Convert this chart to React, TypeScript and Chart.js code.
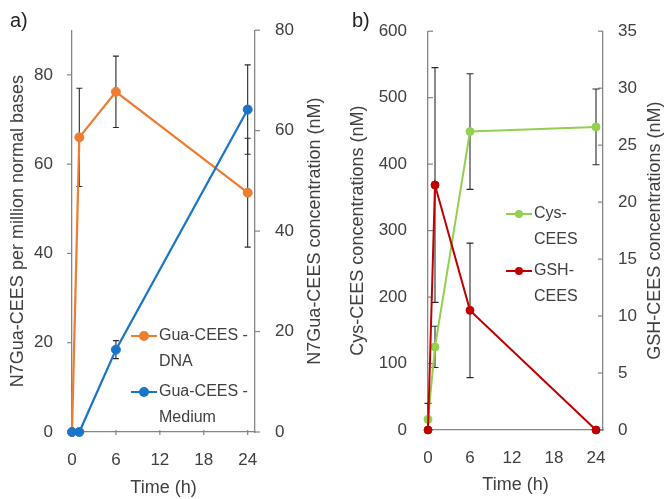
import React, { useEffect, useRef } from "react";
import { Chart, registerables } from "chart.js";

Chart.register(...registerables);

// ---------- data ----------
const timeA = [0, 1, 6, 24];
const dnaValues = [0, 66, 76.2, 53.6];
const dnaErrors = [0, 11, 8, 12.2];
const mediumValues = [0, 0, 16.4, 64.2];
const mediumErrors = [0, 0, 1.8, 8.9];

const timeB = [0, 1, 6, 24];
const cysValues = [16, 125, 449, 456];
const cysErrors = [24, 31, 87, 57];
const gshValues = [0, 21.5, 10.5, 0];
const gshErrors = [0, 10.3, 5.9, 0];

const xTicks = [0, 6, 12, 18, 24];
const leftTicksA = [0, 20, 40, 60, 80];
const rightTicksA = [0, 20, 40, 60, 80];
const leftTicksB = [0, 100, 200, 300, 400, 500, 600];
const rightTicksB = [0, 5, 10, 15, 20, 25, 30, 35];

const dnaLegend = ["Gua-CEES -", "DNA"];
const mediumLegend = ["Gua-CEES -", "Medium"];
const cysLegend = ["Cys-", "CEES"];
const gshLegend = ["GSH-", "CEES"];

const xTitle = "Time (h)";
const leftTitleA = "N7Gua-CEES per million normal bases";
const rightTitleA = "N7Gua-CEES concentration (nM)";
const leftTitleB = "Cys-CEES concentrations (nM)";
const rightTitleB = "GSH-CEES concentrations (nM)";

// ---------- style ----------
const FONT = "'Liberation Sans', Arial, sans-serif";
const TEXT = "#404040";
const AXIS = "#868686";
const ORANGE = "#ED7D31";
const BLUE = "#1A75C8";
const GREEN = "#92D050";
const RED = "#C00000";

Chart.defaults.font.family = FONT;
Chart.defaults.color = TEXT;

const pts = (xs: number[], ys: number[]) => xs.map((x, i) => ({ x, y: ys[i] }));
const setTicks = (vals: number[]) => (s: any) => {
  s.ticks = vals.map((v) => ({ value: v }));
};

function errorBarPlugin(cap: number) {
  return {
    id: "errorBars",
    beforeDatasetsDraw(chart: any) {
      const { ctx, chartArea } = chart;
      chart.data.datasets.forEach((ds: any, i: number) => {
        if (!ds.errors) return;
        const meta = chart.getDatasetMeta(i);
        const xs = chart.scales[meta.xAxisID];
        const ys = chart.scales[meta.yAxisID];
        ctx.save();
        ctx.strokeStyle = "#2a2a2a";
        ctx.lineWidth = 1.1;
        ds.data.forEach((p: any, j: number) => {
          const e = ds.errors[j];
          if (!e) return;
          const px = xs.getPixelForValue(p.x);
          const top = ys.getPixelForValue(p.y + e);
          const bot = ys.getPixelForValue(p.y - e);
          const t = Math.max(top, chartArea.top);
          const b = Math.min(bot, chartArea.bottom);
          ctx.beginPath();
          ctx.moveTo(px, t);
          ctx.lineTo(px, b);
          if (top >= chartArea.top - 0.5) {
            ctx.moveTo(px - cap, top);
            ctx.lineTo(px + cap, top);
          }
          if (bot <= chartArea.bottom + 0.5) {
            ctx.moveTo(px - cap, bot);
            ctx.lineTo(px + cap, bot);
          }
          ctx.stroke();
        });
        ctx.restore();
      });
    },
  };
}

function tickMarkPlugin(axes: Record<string, { inner: number; outer: number }>) {
  return {
    id: "tickMarks",
    beforeDatasetsDraw(chart: any) {
      const { ctx } = chart;
      ctx.save();
      ctx.strokeStyle = AXIS;
      ctx.lineWidth = 1.2;
      Object.keys(axes).forEach((id) => {
        const { inner, outer } = axes[id];
        const s = chart.scales[id];
        s.ticks.forEach((t: any) => {
          const p = s.getPixelForValue(t.value);
          ctx.beginPath();
          if (s.isHorizontal()) {
            ctx.moveTo(p, s.top - inner);
            ctx.lineTo(p, s.top + outer);
          } else if (s.position === "left") {
            ctx.moveTo(s.right + inner, p);
            ctx.lineTo(s.right - outer, p);
          } else {
            ctx.moveTo(s.left - inner, p);
            ctx.lineTo(s.left + outer, p);
          }
          ctx.stroke();
        });
      });
      ctx.restore();
    },
  };
}

function decorPlugin(o: {
  panel: string;
  panelX: number;
  panelY: number;
  rightTitle: string;
  rightTitleFromEdge: number;
  legendX: number;
  legendY: number;
  lineLen: number;
  radius: number;
  entryGap: number;
  rowGap: number;
  order: number[];
}) {
  return {
    id: "decor",
    afterDraw(chart: any) {
      const { ctx, chartArea } = chart;
      ctx.save();
      // panel label
      ctx.fillStyle = "#222";
      ctx.font = `20px ${FONT}`;
      ctx.textAlign = "left";
      ctx.textBaseline = "alphabetic";
      ctx.fillText(o.panel, o.panelX, o.panelY);
      // right axis title (reads bottom to top)
      ctx.fillStyle = TEXT;
      ctx.font = `18px ${FONT}`;
      ctx.textAlign = "center";
      ctx.textBaseline = "middle";
      ctx.translate(chart.width - o.rightTitleFromEdge, (chartArea.top + chartArea.bottom) / 2);
      ctx.rotate(-Math.PI / 2);
      ctx.fillText(o.rightTitle, 0, 0);
      ctx.restore();
      // legend
      ctx.save();
      ctx.font = `16px ${FONT}`;
      ctx.textBaseline = "middle";
      ctx.textAlign = "left";
      o.order.forEach((di, k) => {
        const ds = chart.data.datasets[di];
        const y = o.legendY + k * o.entryGap;
        const x = o.legendX;
        ctx.strokeStyle = ds.borderColor;
        ctx.lineWidth = 2;
        ctx.beginPath();
        ctx.moveTo(x, y);
        ctx.lineTo(x + o.lineLen, y);
        ctx.stroke();
        ctx.fillStyle = ds.borderColor;
        ctx.beginPath();
        ctx.arc(x + o.lineLen / 2, y, o.radius, 0, Math.PI * 2);
        ctx.fill();
        ctx.fillStyle = TEXT;
        (ds.legendLines as string[]).forEach((line, li) => {
          ctx.fillText(line, x + o.lineLen + 2, y + li * o.rowGap);
        });
      });
      ctx.restore();
    },
  };
}

function yScale(opts: any) {
  return {
    type: "linear",
    position: opts.position,
    min: opts.min,
    max: opts.max,
    afterBuildTicks: setTicks(opts.ticks),
    afterFit: (s: any) => {
      s.width = opts.width;
    },
    grid: { display: false, drawTicks: false },
    border: { display: true, color: AXIS, width: 1.3 },
    ticks: { padding: opts.padding, color: TEXT, font: { size: 17 } },
    title: opts.title
      ? {
          display: true,
          text: opts.title,
          color: TEXT,
          font: { size: 18 },
          padding: { top: opts.titlePad, bottom: 0 },
        }
      : { display: false },
  };
}

function xScale(height: number, titleBottom: number) {
  return {
    type: "linear",
    min: 0,
    max: 25,
    afterBuildTicks: setTicks(xTicks),
    afterFit: (s: any) => {
      s.height = height;
    },
    grid: { display: false, drawTicks: false },
    border: { display: true, color: AXIS, width: 1.3 },
    ticks: { padding: 18, color: TEXT, font: { size: 17 } },
    title: {
      display: true,
      text: xTitle,
      color: TEXT,
      font: { size: 18 },
      padding: { top: 0, bottom: titleBottom },
    },
  };
}

function lineDs(label: string[], data: any[], errors: number[], color: string, yAxisID: string, order: number, r: number, bw: number) {
  return {
    label: label.join(" "),
    legendLines: label,
    errors,
    data,
    yAxisID,
    xAxisID: "x",
    order,
    borderColor: color,
    backgroundColor: color,
    pointBackgroundColor: color,
    pointBorderColor: color,
    pointBorderWidth: 1,
    pointRadius: r,
    borderWidth: bw,
    tension: 0,
    clip: false,
  };
}

function configA(): any {
  return {
    type: "line",
    data: {
      datasets: [
        lineDs(dnaLegend, pts(timeA, dnaValues), dnaErrors, ORANGE, "y", 1, 4.5, 2.25),
        lineDs(mediumLegend, pts(timeA, mediumValues), mediumErrors, BLUE, "y1", 0, 4.5, 2.25),
      ],
    },
    options: {
      animation: false,
      responsive: false,
      events: [],
      layout: { padding: { top: 27, left: 0, right: 0, bottom: 0 } },
      plugins: { legend: { display: false }, tooltip: { enabled: false } },
      scales: {
        x: xScale(67, 0),
        y: yScale({ position: "left", min: 0, max: 90, ticks: leftTicksA, width: 72, padding: 19, title: leftTitleA, titlePad: 7 }),
        y1: yScale({ position: "right", min: 0, max: 80, ticks: rightTicksA, width: 77, padding: 20 }),
      },
    },
    plugins: [
      tickMarkPlugin({ x: { inner: 2, outer: 3 }, y: { inner: 0, outer: 5 }, y1: { inner: 0, outer: 5 } }),
      errorBarPlugin(3),
      decorPlugin({
        panel: "a)",
        panelX: 10,
        panelY: 27,
        rightTitle: rightTitleA,
        rightTitleFromEdge: 17,
        legendX: 131,
        legendY: 336,
        lineLen: 26,
        radius: 5,
        entryGap: 56,
        rowGap: 26,
        order: [0, 1],
      }),
    ],
  };
}

function configB(): any {
  return {
    type: "line",
    data: {
      datasets: [
        lineDs(cysLegend, pts(timeB, cysValues), cysErrors, GREEN, "y", 1, 4, 2),
        lineDs(gshLegend, pts(timeB, gshValues), gshErrors, RED, "y1", 0, 4, 2),
      ],
    },
    options: {
      animation: false,
      responsive: false,
      events: [],
      layout: { padding: { top: 30, left: 0, right: 0, bottom: 0 } },
      plugins: { legend: { display: false }, tooltip: { enabled: false } },
      scales: {
        x: xScale(69, 3),
        y: yScale({ position: "left", min: 0, max: 600, ticks: leftTicksB, width: 96, padding: 21, title: leftTitleB, titlePad: 15 }),
        y1: yScale({ position: "right", min: 0, max: 35, ticks: rightTicksB, width: 62, padding: 15 }),
      },
    },
    plugins: [
      tickMarkPlugin({ y: { inner: 5, outer: 0 }, y1: { inner: 5, outer: 0 } }),
      errorBarPlugin(3.5),
      decorPlugin({
        panel: "b)",
        panelX: 20,
        panelY: 27,
        rightTitle: rightTitleB,
        rightTitleFromEdge: 10,
        legendX: 174,
        legendY: 214,
        lineLen: 26,
        radius: 4,
        entryGap: 57,
        rowGap: 26,
        order: [0, 1],
      }),
    ],
  };
}

function Panel({ left, width, make }: { left: number; width: number; make: () => any }) {
  const ref = useRef<HTMLCanvasElement>(null);
  useEffect(() => {
    const chart = new Chart(ref.current as HTMLCanvasElement, make());
    return () => chart.destroy();
  }, []);
  return (
    <canvas
      ref={ref}
      width={width}
      height={499}
      style={{ position: "absolute", left, top: 0, width, height: 499 }}
    />
  );
}

export default function App() {
  return (
    <div style={{ position: "absolute", left: 0, top: 0, width: 665, height: 499, background: "#fff" }}>
      <Panel left={0} width={332} make={configA} />
      <Panel left={332} width={333} make={configB} />
    </div>
  );
}
